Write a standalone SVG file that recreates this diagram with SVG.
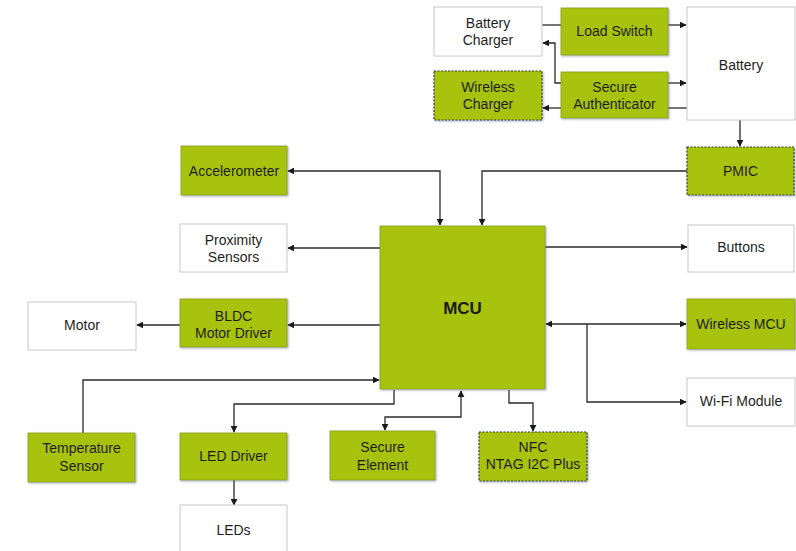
<svg xmlns="http://www.w3.org/2000/svg" width="796" height="551" viewBox="0 0 796 551">
<defs>
<marker id="ah" viewBox="0 0 10 10" refX="9" refY="5" markerWidth="7" markerHeight="7" orient="auto-start-reverse" markerUnits="userSpaceOnUse">
<path d="M0,0 L10,5 L0,10 z" fill="#1a1a1a"/>
</marker>
<filter id="sh" x="-10%" y="-10%" width="125%" height="125%">
<feDropShadow dx="1" dy="1" stdDeviation="1" flood-color="#5a6b8c" flood-opacity="0.55"/>
</filter>
</defs>
<style>
.w{fill:#ffffff;stroke:#c8c8c8;stroke-width:1}
.g{fill:#a8c30a;stroke:#8da010;stroke-width:0.8;filter:url(#sh)}
.gd{fill:#a8c30a;stroke:#3a4040;stroke-width:1.2;stroke-dasharray:2 1.5;filter:url(#sh)}
.t{font-family:"Liberation Sans",Arial,sans-serif;font-size:14px;fill:#1e1e1e;text-anchor:middle}
.b{font-family:"Liberation Sans",Arial,sans-serif;font-size:17px;font-weight:bold;fill:#1a1a1a;text-anchor:middle}
.c{fill:none;stroke:#2a2a2a;stroke-width:1.3}
</style>
<rect width="796" height="551" fill="#ffffff"/>
<g id="connectors">
<path class="c" d="M542,25 H561"/>
<path class="c" d="M668,25 H686" marker-end="url(#ah)"/>
<path class="c" d="M561,83 H555 V43 H543" marker-end="url(#ah)"/>
<path class="c" d="M668,83 H686" marker-end="url(#ah)"/>
<path class="c" d="M687,108 H668"/>
<path class="c" d="M561,108 H543" marker-end="url(#ah)"/>
<path class="c" d="M740,120 V146" marker-end="url(#ah)"/>
<path class="c" d="M440,225 V171 H288" marker-start="url(#ah)" marker-end="url(#ah)"/>
<path class="c" d="M687,171 H482 V225" marker-end="url(#ah)"/>
<path class="c" d="M380,248 H288" marker-end="url(#ah)"/>
<path class="c" d="M545,247 H687" marker-end="url(#ah)"/>
<path class="c" d="M380,325 H288" marker-end="url(#ah)"/>
<path class="c" d="M180,325 H137" marker-end="url(#ah)"/>
<path class="c" d="M546,324 H686" marker-start="url(#ah)" marker-end="url(#ah)"/>
<path class="c" d="M587,324 V402 H686" marker-end="url(#ah)"/>
<path class="c" d="M83,433 V380 H379" marker-end="url(#ah)"/>
<path class="c" d="M394,390 V404 H234 V432" marker-end="url(#ah)"/>
<path class="c" d="M234,480 V505" marker-end="url(#ah)"/>
<path class="c" d="M385,430 V417 H461 V391" marker-start="url(#ah)" marker-end="url(#ah)"/>
<path class="c" d="M509,390 V403 H533 V431" marker-end="url(#ah)"/>
</g>
<g id="battery-charger"><rect class="w" x="434" y="7" width="108" height="49"/><text class="t" x="488" y="28">Battery</text><text class="t" x="488" y="45">Charger</text></g>
<g id="load-switch"><rect class="g" x="561" y="8" width="107" height="47"/><text class="t" x="614.5" y="36">Load Switch</text></g>
<g id="battery"><rect class="w" x="687" y="7" width="108" height="113"/><text class="t" x="741" y="70">Battery</text></g>
<g id="wireless-charger"><rect class="gd" x="434" y="71" width="108" height="49"/><text class="t" x="488" y="92">Wireless</text><text class="t" x="488" y="109">Charger</text></g>
<g id="secure-authenticator"><rect class="g" x="561" y="72" width="107" height="46"/><text class="t" x="614.5" y="92">Secure</text><text class="t" x="614.5" y="109">Authenticator</text></g>
<g id="pmic"><rect class="gd" x="687" y="147" width="107" height="48"/><text class="t" x="740.5" y="176">PMIC</text></g>
<g id="accelerometer"><rect class="g" x="181" y="146" width="106" height="49"/><text class="t" x="234" y="176">Accelerometer</text></g>
<g id="mcu"><rect class="g" x="380" y="226" width="165" height="163"/><text class="b" x="462.5" y="314">MCU</text></g>
<g id="proximity-sensors"><rect class="w" x="180" y="224" width="107" height="48"/><text class="t" x="233.5" y="245">Proximity</text><text class="t" x="233.5" y="262">Sensors</text></g>
<g id="buttons"><rect class="w" x="688" y="225" width="106" height="47"/><text class="t" x="741" y="252">Buttons</text></g>
<g id="bldc-motor-driver"><rect class="g" x="180" y="299" width="107" height="48"/><text class="t" x="233.5" y="321">BLDC</text><text class="t" x="233.5" y="338">Motor Driver</text></g>
<g id="motor"><rect class="w" x="28" y="302" width="108" height="48"/><text class="t" x="82" y="330">Motor</text></g>
<g id="wireless-mcu"><rect class="g" x="687" y="299" width="108" height="50"/><text class="t" x="741" y="329">Wireless MCU</text></g>
<g id="wifi-module"><rect class="w" x="687" y="378" width="108" height="48"/><text class="t" x="741" y="406">Wi-Fi Module</text></g>
<g id="temperature-sensor"><rect class="g" x="28" y="433" width="107" height="49"/><text class="t" x="81.5" y="453">Temperature</text><text class="t" x="81.5" y="471">Sensor</text></g>
<g id="led-driver"><rect class="g" x="180" y="433" width="107" height="47"/><text class="t" x="233.5" y="461">LED Driver</text></g>
<g id="leds"><rect class="w" x="180" y="505" width="107" height="52"/><text class="t" x="233.5" y="535">LEDs</text></g>
<g id="secure-element"><rect class="g" x="330" y="431" width="105" height="49"/><text class="t" x="382.5" y="452">Secure</text><text class="t" x="382.5" y="470">Element</text></g>
<g id="nfc"><rect class="gd" x="479" y="432" width="108" height="49"/><text class="t" x="533" y="452">NFC</text><text class="t" x="533" y="469">NTAG I2C Plus</text></g>
</svg>
